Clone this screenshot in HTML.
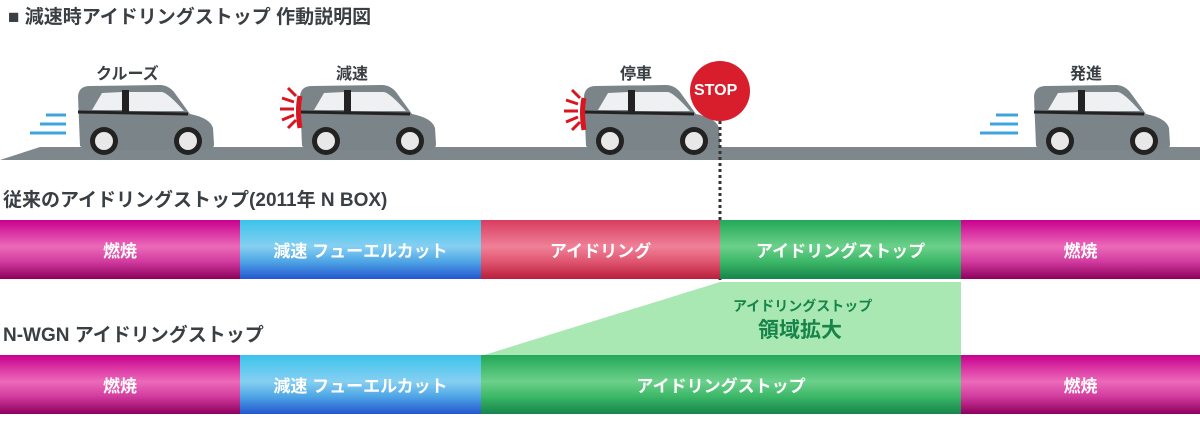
<!DOCTYPE html>
<html><head><meta charset="utf-8"><style>
body{margin:0;width:1200px;height:438px;background:#fff;overflow:hidden;position:relative;font-family:"Liberation Sans","Noto Sans CJK JP",sans-serif;}
.t{position:absolute;color:#3a3f44;font-weight:bold;white-space:nowrap}
.bar{position:absolute;height:59px;color:#fff;font-weight:bold;font-size:17px;display:flex;align-items:center;justify-content:center}
.m{background:linear-gradient(#c8008e,#ec6ab9 45%,#d23c9f 70%,#8c005c)}
.b{background:linear-gradient(#3cc3ec,#86cff1 45%,#4fa6e6 70%,#2456cf)}
.r{background:linear-gradient(#d83c5e,#ef8198 45%,#e05670 70%,#b81e3c)}
.g{background:linear-gradient(#22a858,#6cd08a 45%,#3cb868 70%,#17844a)}
</style></head><body>
<div class="t" style="left:8px;top:2px;font-size:19px">■ 減速時アイドリングストップ 作動説明図</div>
<svg width="1200" height="438" style="position:absolute;left:0;top:0">
<defs>
<g id="car">
<path d="M6,62 L4,12 Q5,2 16,2 L86,1 Q94,1 100,8 L116,30 Q136,34 139,44 L140,60 Q140,66 132,66 L12,66 Z" fill="#7b8488"/>
<path d="M18,26 L28,9 L48,8 L48,26 Z M55,8 L88,8 Q94,9 110,27 L55,27 Z" fill="#eef0f1"/>
<rect x="48" y="6" width="7" height="24" fill="#222"/>
<path d="M4,28 L114,30" stroke="#222" stroke-width="3"/>
<circle cx="30" cy="57" r="14" fill="#222"/><circle cx="30" cy="57" r="9" fill="#e8e8e8"/>
<circle cx="114" cy="57" r="14" fill="#222"/><circle cx="114" cy="57" r="9" fill="#e8e8e8"/>
</g>
<g id="brake" stroke="#d9161f" stroke-width="3">
<path d="M-6,-18 L2,-10 M-12,-8 L0,-4 M-14,3 L0,3 M-12,14 L0,9 M-6,22 L2,14"/>
<path d="M6,-10 Q3,4 6,22" stroke-width="5"/>
</g>
</defs>
<polygon points="40,147 1200,147 1200,160 0,160" fill="#7e878b"/>
<use href="#car" x="74" y="84"/>
<use href="#car" x="296" y="84"/>
<use href="#car" x="580" y="84"/>
<use href="#car" x="1030" y="84"/>
<g stroke="#3fa3e0" stroke-width="3"><path d="M46,115 H66 M40,124 H66 M30,133 H66"/><path d="M996,115 H1018 M990,124 H1018 M980,133 H1018"/></g>
<use href="#brake" x="294" y="106"/>
<use href="#brake" x="578" y="108"/>
<circle cx="720" cy="91" r="30" fill="#d81e2c"/>
<line x1="720" y1="121" x2="720" y2="280" stroke="#333" stroke-width="3" stroke-dasharray="3,3"/>
<polygon points="481,356 720,282 961,282 961,356" fill="#a9e7b3"/>
</svg>
<div class="t" style="left:694px;top:82px;font-size:16px;color:#fff">STOP</div>
<div class="t" style="left:96px;top:60px;font-size:16px">クルーズ</div>
<div class="t" style="left:336px;top:60px;font-size:16px">減速</div>
<div class="t" style="left:620px;top:60px;font-size:16px">停車</div>
<div class="t" style="left:1070px;top:60px;font-size:16px">発進</div>
<div class="t" style="left:3px;top:185px;font-size:19px">従来のアイドリングストップ(2011年 N BOX)</div>
<div class="bar m" style="left:0;top:220px;width:240px">燃焼</div>
<div class="bar b" style="left:240px;top:220px;width:241px">減速 フューエルカット</div>
<div class="bar r" style="left:481px;top:220px;width:239px">アイドリング</div>
<div class="bar g" style="left:720px;top:220px;width:241px">アイドリングストップ</div>
<div class="bar m" style="left:961px;top:220px;width:239px">燃焼</div>
<div class="t" style="left:733px;top:296px;font-size:14px;color:#17844a">アイドリングストップ</div>
<div class="t" style="left:758px;top:314px;font-size:21px;color:#17844a">領域拡大</div>
<div class="t" style="left:3px;top:320px;font-size:19px">N-WGN アイドリングストップ</div>
<div class="bar m" style="left:0;top:355px;width:240px">燃焼</div>
<div class="bar b" style="left:240px;top:355px;width:241px">減速 フューエルカット</div>
<div class="bar g" style="left:481px;top:355px;width:480px">アイドリングストップ</div>
<div class="bar m" style="left:961px;top:355px;width:239px">燃焼</div>
</body></html>
